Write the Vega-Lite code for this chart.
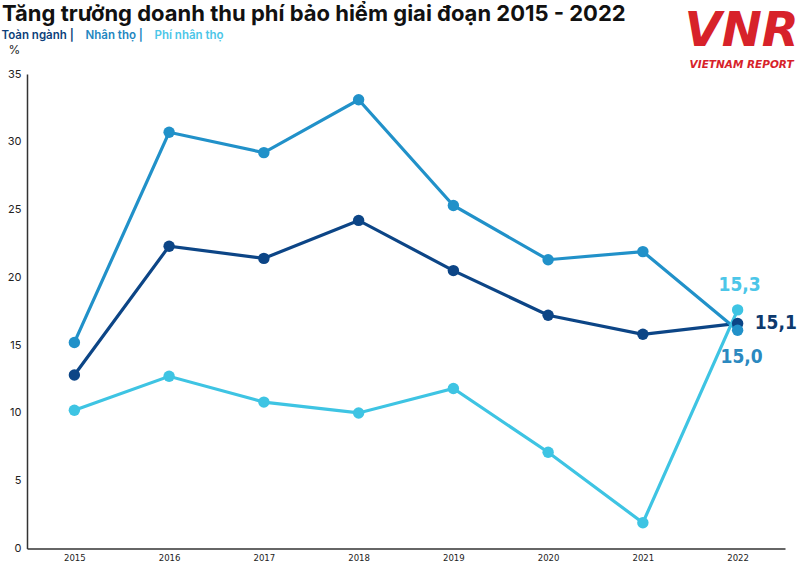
{
  "$schema": "https://vega.github.io/schema/vega-lite/v6.json",
  "autosize": "none",
  "width": 758,
  "height": 474.5,
  "padding": {"left": 27, "top": 74, "right": 15, "bottom": 16.5},
  "background": "white",
  "config": {"view": {"stroke": null}, "font": "Inter"},
  "title": {
    "text": "Tăng trưởng doanh thu phí bảo hiểm giai đoạn 2015 - 2022",
    "anchor": "start",
    "frame": "group",
    "dx": -25,
    "offset": -18,
    "fontSize": 22,
    "fontWeight": "bold",
    "font": "Inter",
    "color": "#111111"
  },
  "datasets": {
    "series": [
      {"year": "2015", "series": "Toàn ngành", "value": 12.8},
      {"year": "2016", "series": "Toàn ngành", "value": 22.3},
      {"year": "2017", "series": "Toàn ngành", "value": 21.4},
      {"year": "2018", "series": "Toàn ngành", "value": 24.2},
      {"year": "2019", "series": "Toàn ngành", "value": 20.5},
      {"year": "2020", "series": "Toàn ngành", "value": 17.2},
      {"year": "2021", "series": "Toàn ngành", "value": 15.8},
      {"year": "2022", "series": "Toàn ngành", "value": 16.6, "label": "15,1"},
      {"year": "2015", "series": "Nhân thọ", "value": 15.2},
      {"year": "2016", "series": "Nhân thọ", "value": 30.7},
      {"year": "2017", "series": "Nhân thọ", "value": 29.2},
      {"year": "2018", "series": "Nhân thọ", "value": 33.1},
      {"year": "2019", "series": "Nhân thọ", "value": 25.3},
      {"year": "2020", "series": "Nhân thọ", "value": 21.3},
      {"year": "2021", "series": "Nhân thọ", "value": 21.9},
      {"year": "2022", "series": "Nhân thọ", "value": 16.1, "label": "15,0"},
      {"year": "2015", "series": "Phí nhân thọ", "value": 10.2},
      {"year": "2016", "series": "Phí nhân thọ", "value": 12.7},
      {"year": "2017", "series": "Phí nhân thọ", "value": 10.8},
      {"year": "2018", "series": "Phí nhân thọ", "value": 10.0},
      {"year": "2019", "series": "Phí nhân thọ", "value": 11.8},
      {"year": "2020", "series": "Phí nhân thọ", "value": 7.1},
      {"year": "2021", "series": "Phí nhân thọ", "value": 1.9},
      {"year": "2022", "series": "Phí nhân thọ", "value": 17.6, "label": "15,3"}
    ],
    "logo": [
      {"year": "2022", "value": 38.1, "text": "VNR", "part": "big"},
      {"year": "2022", "value": 35.65, "text": "VIETNAM REPORT", "part": "small"}
    ]
  },
  "data": {"name": "series"},
  "encoding": {
    "x": {
      "field": "year",
      "type": "ordinal",
      "scale": {"type": "point", "padding": 0.5},
      "axis": {
        "title": null,
        "labelAngle": 0,
        "ticks": false,
        "domainColor": "#333333",
        "domainWidth": 1.5,
        "labelFont": "DejaVu Sans Condensed",
        "labelFontSize": 9.5,
        "labelColor": "#222222",
        "labelPadding": 4
      }
    },
    "y": {
      "field": "value",
      "type": "quantitative",
      "scale": {"domain": [0, 35], "nice": false, "zero": true},
      "axis": {
        "values": [0, 5, 10, 15, 20, 25, 30, 35],
        "grid": false,
        "ticks": false,
        "domainColor": "#333333",
        "domainWidth": 1.5,
        "labelFontSize": 11,
        "labelColor": "#222222",
        "labelPadding": 6,
        "title": "%",
        "titleAngle": 0,
        "titleAlign": "center",
        "titleBaseline": "middle",
        "titleX": -13,
        "titleY": -25,
        "titleFontSize": 12,
        "titleFontWeight": "normal",
        "titleColor": "#222222"
      }
    },
    "color": {
      "field": "series",
      "type": "nominal",
      "scale": {
        "domain": ["Toàn ngành", "Nhân thọ", "Phí nhân thọ"],
        "range": ["#0c4586", "#2191c9", "#3ec4e3"]
      },
      "legend": {
        "title": null,
        "orient": "none",
        "legendX": -37,
        "legendY": -44,
        "direction": "horizontal",
        "symbolSize": 0,
        "symbolStrokeWidth": 0,
        "symbolOpacity": 0,
        "labelOffset": 0,
        "columnPadding": -8,
        "padding": 0,
        "labelFontSize": 11.5,
        "labelFontWeight": 600,
        "labelExpr": "datum.label == 'Phí nhân thọ' ? datum.label : datum.label + ' |'",
        "encode": {
          "labels": {
            "update": {
              "fill": {"signal": "datum.value == 'Toàn ngành' ? '#0d3f7a' : datum.value == 'Nhân thọ' ? '#2386bf' : '#4cc6e8'"}
            }
          }
        }
      }
    }
  },
  "layer": [
    {"mark": {"type": "line", "strokeWidth": 3.2}},
    {"mark": {"type": "point", "filled": true, "opacity": 1, "size": 130}},
    {
      "transform": [{"filter": "datum.label != null && datum.series == 'Phí nhân thọ'"}],
      "mark": {"type": "text", "font": "DejaVu Sans Condensed", "fontWeight": "bold", "fontSize": 19, "align": "center", "baseline": "middle", "dy": -25, "dx": 2},
      "encoding": {"text": {"field": "label"}, "color": {"value": "#4cc6e8"}}
    },
    {
      "transform": [{"filter": "datum.label != null && datum.series == 'Toàn ngành'"}],
      "mark": {"type": "text", "font": "DejaVu Sans Condensed", "fontWeight": "bold", "fontSize": 19, "align": "left", "baseline": "middle", "dx": 17, "dy": 0},
      "encoding": {"text": {"field": "label"}, "color": {"value": "#0e3a6e"}}
    },
    {
      "transform": [{"filter": "datum.label != null && datum.series == 'Nhân thọ'"}],
      "mark": {"type": "text", "font": "DejaVu Sans Condensed", "fontWeight": "bold", "fontSize": 19, "align": "center", "baseline": "middle", "dx": 4, "dy": 27},
      "encoding": {"text": {"field": "label"}, "color": {"value": "#2b89c0"}}
    },
    {
      "data": {"name": "logo"},
      "transform": [{"filter": "datum.part == 'big'"}],
      "mark": {"type": "text", "font": "DejaVu Sans", "fontWeight": "bold", "fontStyle": "italic", "fontSize": 48, "align": "center", "baseline": "middle", "dx": 4, "clip": false},
      "encoding": {"text": {"field": "text"}, "color": {"value": "#d7222a"}, "x": {"field": "year", "type": "ordinal"}, "y": {"field": "value", "type": "quantitative"}}
    },
    {
      "data": {"name": "logo"},
      "transform": [{"filter": "datum.part == 'small'"}],
      "mark": {"type": "text", "font": "DejaVu Sans", "fontWeight": "bold", "fontStyle": "italic", "fontSize": 10.5, "align": "center", "baseline": "middle", "dx": 4, "clip": false},
      "encoding": {"text": {"field": "text"}, "color": {"value": "#d7222a"}, "x": {"field": "year", "type": "ordinal"}, "y": {"field": "value", "type": "quantitative"}}
    }
  ]
}
